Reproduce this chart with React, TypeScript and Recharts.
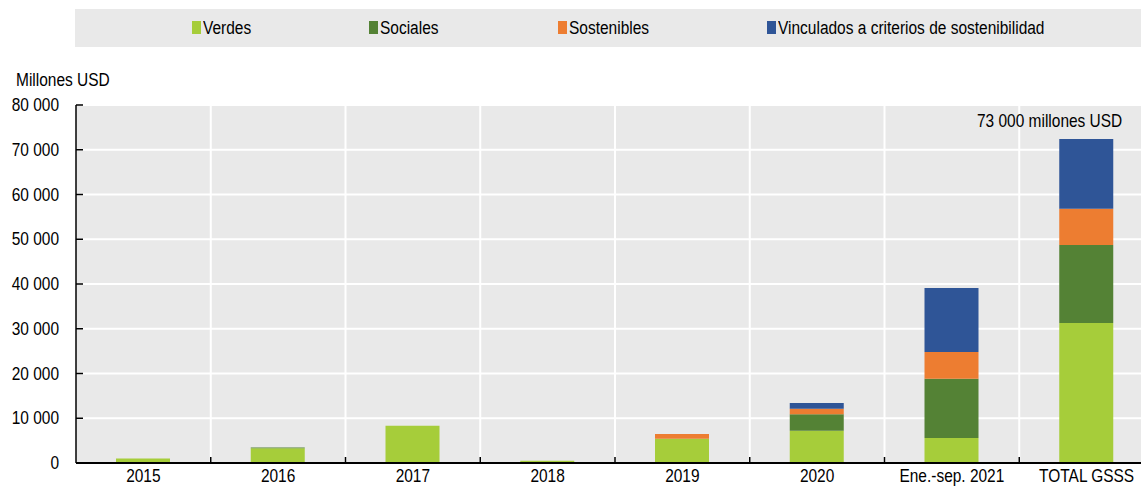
import React from "react"
import { BarChart, Bar, XAxis, YAxis, CartesianGrid, LabelList } from "recharts"

const categories = ["2015", "2016", "2017", "2018", "2019", "2020", "Ene.-sep. 2021", "TOTAL GSSS"]
const verdes = [1000, 3300, 8300, 500, 5400, 7200, 5600, 31300]
const sociales = [0, 150, 0, 0, 0, 3700, 13200, 17400]
const sostenibles = [0, 0, 0, 0, 1100, 1200, 6000, 8100]
const vinculados = [0, 0, 0, 0, 0, 1300, 14300, 15600]
const yTicks = [0, 10000, 20000, 30000, 40000, 50000, 60000, 70000, 80000]
const totalLabel = "73 000 millones USD"

const series = [
  { key: "verdes", name: "Verdes", color: "#a6cd3a", legendX: 192 },
  { key: "sociales", name: "Sociales", color: "#548235", legendX: 369 },
  { key: "sostenibles", name: "Sostenibles", color: "#ed7d31", legendX: 558 },
  { key: "vinculados", name: "Vinculados a criterios de sostenibilidad", color: "#2f5597", legendX: 767 },
]

const data = categories.map((c, i) => ({
  cat: c,
  verdes: verdes[i],
  sociales: sociales[i],
  sostenibles: sostenibles[i],
  vinculados: vinculados[i],
  label: i === categories.length - 1 ? totalLabel : "",
}))

const FONT = "'Liberation Sans', Arial, sans-serif"
const FS = 18
const SX = 0.86
const CHART_W = 1160
const CHART_H = 488
const margin = { top: 105, right: 6, left: 0, bottom: 0 }
const Y_W = 76
const step = (CHART_W - margin.left - margin.right - Y_W) / categories.length

const fmt = (v: number) => String(v).replace(/\B(?=(\d{3})+(?!\d))/g, " ")

// narrow text: regular font squeezed horizontally
function NText({ x, y, anchor, children }: any) {
  return (
    <text
      transform={`translate(${x},${y}) scale(${SX},1)`}
      textAnchor={anchor}
      fontFamily={FONT}
      fontSize={FS}
      fill="#000"
    >
      {children}
    </text>
  )
}

function YTick(props: any) {
  const { x, y, payload } = props
  return (
    <g>
      <line x1={x} x2={x + 7} y1={y} y2={y} stroke="#000" strokeWidth={1.5} />
      <NText x={x - 17} y={y + 6} anchor="end">
        {fmt(payload.value)}
      </NText>
    </g>
  )
}

function XTick(props: any) {
  const { x, y, payload, index } = props
  return (
    <g>
      {index > 0 && (
        <line x1={x - step / 2} x2={x - step / 2} y1={y - 6} y2={y} stroke="#000" strokeWidth={1.5} />
      )}
      <NText x={x} y={y + 19} anchor="middle">
        {payload.value}
      </NText>
    </g>
  )
}

function TotalLabel(props: any) {
  const { x, y, width, value } = props
  if (!value) return null
  return (
    <NText x={Number(x) + Number(width) + 9} y={Number(y) - 12} anchor="end">
      {value}
    </NText>
  )
}

const narrow: React.CSSProperties = {
  position: "absolute",
  fontSize: FS,
  lineHeight: "20px",
  color: "#000",
  whiteSpace: "nowrap",
  transform: `scaleX(${SX})`,
  transformOrigin: "left center",
}

export default function App() {
  return (
    <div
      style={{
        position: "fixed",
        left: 0,
        top: 0,
        width: 1141,
        height: 488,
        overflow: "hidden",
        background: "#fff",
        fontFamily: FONT,
      }}
    >
      <div style={{ position: "absolute", left: 75, top: 9, width: 1066, height: 38, background: "#e9e9e9" }} />
      {series.map((s) => (
        <React.Fragment key={s.key}>
          <div style={{ position: "absolute", left: s.legendX, top: 21, width: 9, height: 13, background: s.color }} />
          <div style={{ ...narrow, left: s.legendX + 11, top: 18 }}>{s.name}</div>
        </React.Fragment>
      ))}
      <div style={{ ...narrow, left: 16, top: 70 }}>Millones USD</div>
      <div style={{ position: "absolute", left: 0, top: 0 }}>
        <BarChart width={CHART_W} height={CHART_H} data={data} margin={margin} barSize={54}>
          <CartesianGrid
            stroke="#fff"
            strokeWidth={2}
            fill="#e9e9e9"
            fillOpacity={1}
            verticalCoordinatesGenerator={({ offset }: any) =>
              categories.slice(1).map((_, i) => offset.left + (i + 1) * (offset.width / categories.length))
            }
          />
          <XAxis
            dataKey="cat"
            height={25}
            tickSize={0}
            tickMargin={0}
            tickLine={false}
            axisLine={{ stroke: "#000", strokeWidth: 2 }}
            tick={<XTick />}
            interval={0}
          />
          <YAxis
            width={Y_W}
            domain={[0, 80000]}
            ticks={yTicks}
            tickSize={0}
            tickMargin={0}
            tickLine={false}
            axisLine={{ stroke: "#000", strokeWidth: 1.5 }}
            tick={<YTick />}
            interval={0}
          />
          {series.map((s, i) => (
            <Bar key={s.key} dataKey={s.key} name={s.name} stackId="a" fill={s.color} isAnimationActive={false}>
              {i === series.length - 1 && (
                <LabelList dataKey="label" content={(p: any) => <TotalLabel {...p} />} />
              )}
            </Bar>
          ))}
        </BarChart>
      </div>
    </div>
  )
}
